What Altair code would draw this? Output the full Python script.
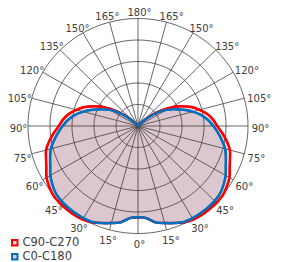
import altair as alt
import numpy as np
import pandas as pd

# ---- data (relative intensity, outer ring = 100) ----
angles = [0, 5, 10, 15, 20, 25, 30, 35, 40, 45, 50, 55, 60, 65, 70, 75, 80, 85, 90,
          95, 100, 105, 110, 115, 120, 125, 130, 135, 140, 145, 150, 155, 160, 165, 170, 175, 180]
c90_c270 = [85, 86, 91, 93.5, 96, 99, 100.5, 101, 101, 101, 100.5, 98.5, 96, 92, 89, 86.5, 82, 77, 72,
            68.5, 64, 58, 51.5, 43.5, 34.5, 24.5, 14.5, 7, 3, 1, 0, 0, 0, 0, 0, 0, 0]
c0_c180 = [85, 86, 91, 93.5, 96, 98.5, 99, 99, 99, 98.5, 97.5, 95, 92, 88, 85, 82, 77.5, 73, 68.5,
           64, 58.5, 51.5, 44, 37, 30, 22, 13, 6, 2, 0.5, 0, 0, 0, 0, 0, 0, 0]
series_names = ["C90-C270", "C0-C180"]
stroke_colors = ["#ff0000", "#0070c0"]
fill_colors = ["#f3d9df", "#ddc7cf"]

ring_values = [20, 40, 60, 80, 100]
spoke_angles = list(range(0, 360, 15))
label_angles = list(range(0, 181, 15))

# ---- polar -> cartesian tables ----
rows = []
for name, vals in zip(series_names, [c90_c270, c0_c180]):
    k = 0
    pairs = list(zip(angles, vals))
    for a, v in pairs:
        t = np.radians(a)
        rows.append(dict(series=name, idx=k, x=v * np.sin(t), y=-v * np.cos(t)))
        k += 1
    for a, v in pairs[-2:0:-1]:
        t = np.radians(a)
        rows.append(dict(series=name, idx=k, x=-v * np.sin(t), y=-v * np.cos(t)))
        k += 1
curve_df = pd.DataFrame(rows)

ring_rows = []
for r in ring_values:
    for j, a in enumerate(range(0, 360, 3)):
        t = np.radians(a)
        ring_rows.append(dict(ring=r, idx=j, x=r * np.sin(t), y=-r * np.cos(t)))
ring_df = pd.DataFrame(ring_rows)

spoke_df = pd.DataFrame([
    dict(x0=0.0, y0=0.0, x1=100 * np.sin(np.radians(a)), y1=-100 * np.cos(np.radians(a)))
    for a in spoke_angles
])

# label ring (pixels): centre (139.5, 129), radii 124 x 116
lab_rows = []
for a in label_angles:
    t = np.radians(a)
    sides = [1] if a in (0, 180) else [-1, 1]
    rx = 124 - (3 if a < 100 else 0)
    for s in sides:
        lab_rows.append(dict(label=f"{a}°",
                             x=(1.5 + s * rx * np.sin(t)) / 1.1,
                             y=(-3.0 - 116 * np.cos(t)) / 1.075))
label_df = pd.DataFrame(lab_rows)

# ---- scales (page: centre at x=138, y=126; 1.1 px/unit horizontally, 1.075 vertically) ----
W, H = 268, 254
xmin = -130 / 1.1
xmax = xmin + W / 1.1
ymax = 118 / 1.075
ymin = ymax - H / 1.075
xs = alt.Scale(domain=[xmin, xmax], nice=False, zero=False)
ys = alt.Scale(domain=[ymin, ymax], nice=False, zero=False)

grid_col = "#404040"

leg = alt.Legend(
    title=None, orient="none", legendX=1, legendY=229, direction="vertical",
    symbolType="square", symbolSize=30, symbolStrokeWidth=2,
    labelFont="DejaVu Sans", labelFontSize=11.5, labelColor="#404040",
    labelOffset=2, rowPadding=0, padding=0,
)

# filled shapes (opaque, blue drawn over red) -- also carries the legend
fills = alt.Chart(curve_df).mark_line(
    interpolate="cardinal-closed", strokeWidth=2, fillOpacity=1
).encode(
    x=alt.X("x:Q", scale=xs, axis=None),
    y=alt.Y("y:Q", scale=ys, axis=None),
    order="idx:Q",
    stroke=alt.Stroke("series:N", scale=alt.Scale(domain=series_names, range=stroke_colors), legend=leg),
    fill=alt.Fill("series:N", scale=alt.Scale(domain=series_names, range=fill_colors), legend=leg),
)

rings = alt.Chart(ring_df).mark_line(interpolate="linear-closed", stroke=grid_col, strokeWidth=0.8).encode(
    x=alt.X("x:Q", scale=xs, axis=None),
    y=alt.Y("y:Q", scale=ys, axis=None),
    detail="ring:N",
    order="idx:Q",
)

spokes = alt.Chart(spoke_df).mark_rule(stroke=grid_col, strokeWidth=0.8).encode(
    x=alt.X("x0:Q", scale=xs, axis=None),
    y=alt.Y("y0:Q", scale=ys, axis=None),
    x2="x1:Q",
    y2="y1:Q",
)

# outlines on top of the grid
outlines = alt.Chart(curve_df).mark_line(
    interpolate="cardinal-closed", strokeWidth=2.5
).encode(
    x=alt.X("x:Q", scale=xs, axis=None),
    y=alt.Y("y:Q", scale=ys, axis=None),
    order="idx:Q",
    color=alt.Color("series:N",
                    scale=alt.Scale(domain=series_names[::-1], range=stroke_colors[::-1]),
                    legend=None),
)

labels = alt.Chart(label_df).mark_text(
    font="DejaVu Sans", fontSize=10, color="#404040", align="center", baseline="middle"
).encode(
    x=alt.X("x:Q", scale=xs, axis=None),
    y=alt.Y("y:Q", scale=ys, axis=None),
    text="label:N",
)

chart = alt.layer(fills, rings, spokes, outlines, labels).resolve_scale(
    color="independent", stroke="independent", fill="independent"
).properties(
    width=W, height=H, padding=0, autosize="none"
).configure_view(stroke=None)

chart.save("out.html", embed_options={"renderer": "svg", "actions": False})
